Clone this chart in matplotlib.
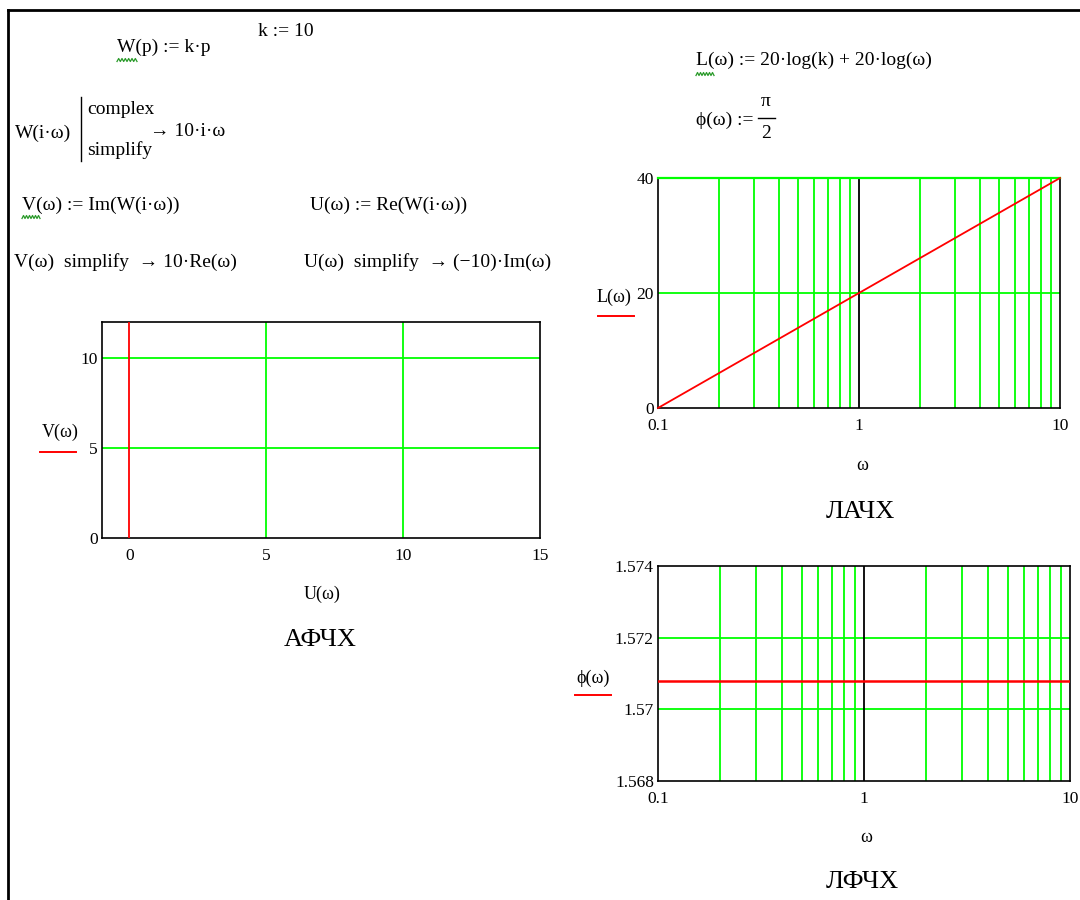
import matplotlib

matplotlib.use("Agg")
import matplotlib.pyplot as plt
import numpy as np
from matplotlib.lines import Line2D
from matplotlib.ticker import FixedLocator, FixedFormatter, NullLocator

plt.rcParams["font.family"] = ["Liberation Serif", "DejaVu Serif"]

W, H = 1080, 900
GRID = "#00ff00"
TRACE = "#ff0000"
WAVY = "#2a9a2a"

# АФЧХ: U(ω) = 0, V(ω) = 10·ω for ω = 0 .. 10
AFC_U = [0, 0]
AFC_V = [0, 100]
AFC_XTICKS = [0, 5, 10, 15]
AFC_YTICKS = [0, 5, 10]

# ЛАЧХ: L(ω) = 20·log(k) + 20·log(ω)
OMEGA = [0.1, 1, 10]
L_DB = [0, 20, 40]
L_YTICKS = [0, 20, 40]

# ЛФЧХ: ϕ(ω) = π/2
PHI = [1.5708, 1.5708, 1.5708]
PHI_YTICKS = [1.568, 1.57, 1.572, 1.574]
PHI_YLABELS = ["1.568", "1.57", "1.572", "1.574"]

LOG_TICKS = [0.1, 1, 10]
LOG_LABELS = ["0.1", "1", "10"]
LOG_GRID = [0.2, 0.3, 0.4, 0.5, 0.6, 0.7, 0.8, 0.9, 2, 3, 4, 5, 6, 7, 8, 9]


def fx(x):
    return x / W


def fy(y):
    return 1 - y / H


def box(x0, y0, x1, y1):
    return [fx(x0), fy(y1), (x1 - x0) / W, (y1 - y0) / H]


def txt(x, y, s, size=14, ha="left", **kw):
    fig.text(fx(x), fy(y), s, fontsize=size, ha=ha, va="center", **kw)


def hline_px(x0, x1, y, color, lw=1.4):
    fig.add_artist(Line2D([fx(x0), fx(x1)], [fy(y), fy(y)], color=color,
                          lw=lw, transform=fig.transFigure))


def squiggle(x0, x1, y):
    xs = np.linspace(x0, x1, 13)
    ys = y + np.where(np.arange(13) % 2, -1.5, 1.5)
    fig.add_artist(Line2D(fx(xs), fy(ys), color=WAVY, lw=0.9,
                          transform=fig.transFigure))


def frame(ax):
    for sp in ax.spines.values():
        sp.set_color("black")
        sp.set_linewidth(1.2)
    ax.tick_params(length=0, labelsize=12.5, colors="black")
    ax.tick_params(axis="x", pad=7)
    ax.tick_params(axis="y", pad=3)


def log_axes(ax):
    ax.set_xscale("log")
    ax.set_xlim(0.1, 10)
    ax.xaxis.set_major_locator(FixedLocator(LOG_TICKS))
    ax.xaxis.set_major_formatter(FixedFormatter(LOG_LABELS))
    ax.xaxis.set_minor_locator(NullLocator())
    for v in LOG_GRID:
        ax.axvline(v, color=GRID, lw=1.3, zorder=1)
    ax.axvline(1, color="black", lw=1.3, zorder=1.5)


fig = plt.figure(figsize=(W / 100, H / 100), dpi=100, facecolor="white")

# worksheet frame
fig.add_artist(Line2D([fx(8), fx(1080)], [fy(10), fy(10)], color="black",
                      lw=2, transform=fig.transFigure))
fig.add_artist(Line2D([fx(8), fx(8)], [fy(10), fy(900)], color="black",
                      lw=2, transform=fig.transFigure))

# formulas, left column
txt(117, 47, "W(p) := k·p")
squiggle(117, 137, 60)
txt(258, 32, "k := 10")
txt(15, 133, "W(i·ω)")
fig.add_artist(Line2D([fx(81), fx(81)], [fy(97), fy(161)], color="black",
                      lw=1, transform=fig.transFigure))
txt(87, 110, "complex")
txt(87, 150, "simplify")
txt(150, 132, "→ 10·i·ω")
txt(22, 205, "V(ω) := Im(W(i·ω))")
squiggle(22, 40, 217)
txt(310, 205, "U(ω) := Re(W(i·ω))")
txt(14, 262, "V(ω)  simplify  → 10·Re(ω)")
txt(304, 262, "U(ω)  simplify  → (−10)·Im(ω)")

# formulas, right column
txt(696, 60, "L(ω) := 20·log(k) + 20·log(ω)")
squiggle(696, 714, 74)
txt(696, 120, "ϕ(ω) :=")
txt(766, 102, "π", ha="center")
hline_px(758, 775, 118, "black", lw=1)
txt(766, 134, "2", ha="center")

# АФЧХ
ax1 = fig.add_axes(box(102, 322, 540, 538))
ax1.set_xlim(-1, 15)
ax1.set_ylim(0, 12)
ax1.xaxis.set_major_locator(FixedLocator(AFC_XTICKS))
ax1.yaxis.set_major_locator(FixedLocator(AFC_YTICKS))
for v in (5, 10):
    ax1.axvline(v, color=GRID, lw=1.3, zorder=1)
    ax1.axhline(v, color=GRID, lw=1.3, zorder=1)
ax1.plot(AFC_U, AFC_V, color=TRACE, lw=1.3, zorder=3)
frame(ax1)
txt(60, 432, "V(ω)", size=13, ha="center")
hline_px(40, 76, 452, TRACE)
txt(322, 594, "U(ω)", size=13, ha="center")
txt(320, 640, "АФЧХ", size=19, ha="center")

# ЛАЧХ
ax2 = fig.add_axes(box(658, 178, 1060, 408))
log_axes(ax2)
ax2.set_ylim(0, 40)
ax2.yaxis.set_major_locator(FixedLocator(L_YTICKS))
ax2.axhline(20, color=GRID, lw=1.3, zorder=1)
ax2.axhline(40, color=GRID, lw=1.6, zorder=3, clip_on=False)
ax2.plot(OMEGA, L_DB, color=TRACE, lw=1.3, zorder=4, clip_on=False)
frame(ax2)
txt(614, 297, "L(ω)", size=13, ha="center")
hline_px(598, 634, 316, TRACE)
txt(862, 466, "ω", size=13, ha="center")
txt(860, 512, "ЛАЧХ", size=19, ha="center")

# ЛФЧХ
ax3 = fig.add_axes(box(658, 566, 1070, 781))
log_axes(ax3)
ax3.set_ylim(1.568, 1.574)
ax3.yaxis.set_major_locator(FixedLocator(PHI_YTICKS))
ax3.yaxis.set_major_formatter(FixedFormatter(PHI_YLABELS))
for v in (1.57, 1.572):
    ax3.axhline(v, color=GRID, lw=1.3, zorder=1)
ax3.plot(OMEGA, PHI, color=TRACE, lw=1.8, zorder=4)
frame(ax3)
txt(593, 678, "ϕ(ω)", size=13, ha="center")
hline_px(575, 611, 695, TRACE)
txt(866, 838, "ω", size=13, ha="center")
txt(862, 882, "ЛФЧХ", size=19, ha="center")

fig.savefig("out.png", dpi=100, facecolor="white")
plt.close(fig)
